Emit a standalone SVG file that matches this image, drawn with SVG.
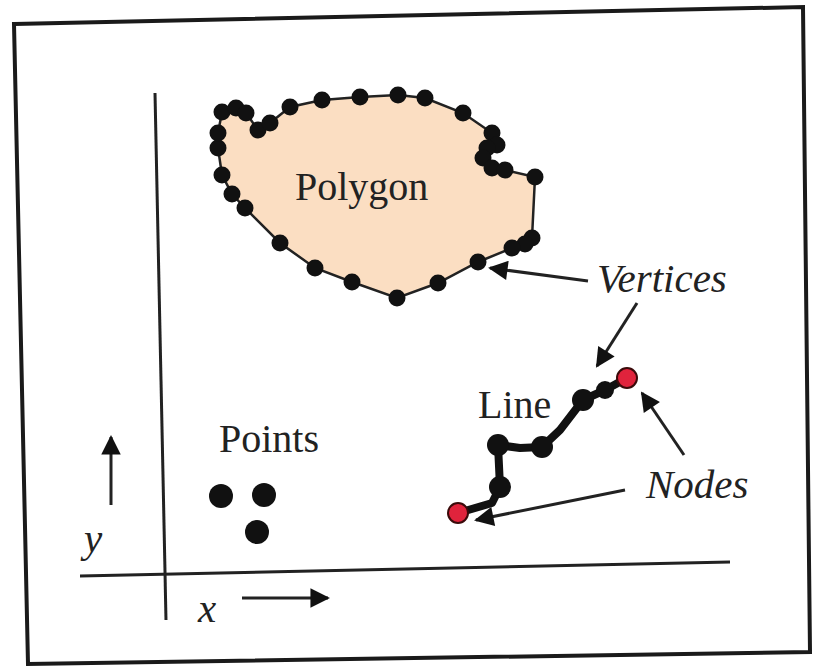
<svg xmlns="http://www.w3.org/2000/svg" width="815" height="667" viewBox="0 0 815 667">
<defs>
<style>
text{font-family:"Liberation Serif","Times New Roman",serif;font-size:40px;fill:#222}
.i{font-style:italic;font-size:41px}
.ax{stroke:#222;stroke-width:3;fill:none}
.ar{stroke:#222;stroke-width:3;fill:none}
.v{fill:#111}
.n{fill:#e0233c;stroke:#3a0a0a;stroke-width:2}
</style>
<marker id="ah" viewBox="0 0 10 10" refX="9" refY="5" markerWidth="8" markerHeight="6.5" markerUnits="strokeWidth" orient="auto">
<path d="M0,0 L10,5 L0,10 z" fill="#111"/>
</marker>
</defs>
<rect width="815" height="667" fill="#fff"/>
<polygon points="14,24 803,7 810,652 28,664" fill="none" stroke="#1a1a1a" stroke-width="4"/>
<g id="axes">
<line class="ax" x1="155" y1="93" x2="166" y2="620"/>
<line class="ax" x1="80" y1="576" x2="730" y2="562"/>
<line class="ar" x1="111" y1="505" x2="111" y2="437" marker-end="url(#ah)"/>
<line class="ar" x1="242" y1="598" x2="328" y2="598" marker-end="url(#ah)"/>
<text class="i" x="84" y="552">y</text>
<text class="i" x="198" y="622">x</text>
</g>
<g id="polygon">
<polygon points="222,112 236,108 246,113 258,130 270,123 290,107 322,100 360,97 398,95 425,98 463,113 492,133 497,145 487,148 483,158 492,168 505,170 535,177 532,238 525,244 512,248 478,262 438,283 397,298 352,282 315,268 280,243 245,208 232,194 222,175 218,148 218,133" fill="#fbdec2" stroke="#222" stroke-width="2.5"/>
<g class="v">
<circle cx="222" cy="112" r="8.5"/><circle cx="236" cy="108" r="8.5"/><circle cx="246" cy="113" r="8.5"/><circle cx="258" cy="130" r="8.5"/><circle cx="270" cy="123" r="8.5"/><circle cx="290" cy="107" r="8.5"/><circle cx="322" cy="100" r="8.5"/><circle cx="360" cy="97" r="8.5"/><circle cx="398" cy="95" r="8.5"/><circle cx="425" cy="98" r="8.5"/><circle cx="463" cy="113" r="8.5"/><circle cx="492" cy="133" r="8.5"/><circle cx="497" cy="145" r="8.5"/><circle cx="487" cy="148" r="8.5"/><circle cx="483" cy="158" r="8.5"/><circle cx="492" cy="168" r="8.5"/><circle cx="505" cy="170" r="8.5"/><circle cx="535" cy="177" r="8.5"/><circle cx="532" cy="238" r="8.5"/><circle cx="525" cy="244" r="8.5"/><circle cx="512" cy="248" r="8.5"/><circle cx="478" cy="262" r="8.5"/><circle cx="438" cy="283" r="8.5"/><circle cx="397" cy="298" r="8.5"/><circle cx="352" cy="282" r="8.5"/><circle cx="315" cy="268" r="8.5"/><circle cx="280" cy="243" r="8.5"/><circle cx="245" cy="208" r="8.5"/><circle cx="232" cy="194" r="8.5"/><circle cx="222" cy="175" r="8.5"/><circle cx="218" cy="148" r="8.5"/><circle cx="218" cy="133" r="8.5"/>
</g>
<text x="295" y="200">Polygon</text>
</g>
<g id="points">
<text x="219" y="452">Points</text>
<circle class="v" cx="221" cy="496" r="12"/>
<circle class="v" cx="264" cy="495" r="12"/>
<circle class="v" cx="257" cy="532" r="12"/>
</g>
<g id="line">
<text x="478" y="418">Line</text>
<polyline points="458,513 492,503 500,487 498,445 520,448 542,447 560,430 583,400 605,390 627,378" fill="none" stroke="#111" stroke-width="8" stroke-linejoin="round"/>
<g class="v">
<circle cx="500" cy="487" r="11"/><circle cx="498" cy="445" r="11"/><circle cx="542" cy="447" r="11"/><circle cx="583" cy="400" r="11"/><circle cx="605" cy="390" r="9"/>
</g>
<circle class="n" cx="627" cy="378" r="10"/>
<circle class="n" cx="458" cy="513" r="10"/>
</g>
<g id="vertices-label">
<text class="i" x="597" y="292">Vertices</text>
</g>
<g id="nodes-label">
<text class="i" x="646" y="498">Nodes</text>
</g>
<g id="connectors">
<line class="ar" x1="588" y1="281" x2="490" y2="268" marker-end="url(#ah)"/>
<line class="ar" x1="637" y1="303" x2="597" y2="366" marker-end="url(#ah)"/>
<line class="ar" x1="684" y1="455" x2="642" y2="393" marker-end="url(#ah)"/>
<line class="ar" x1="625" y1="490" x2="476" y2="520" marker-end="url(#ah)"/>
</g>
</svg>
